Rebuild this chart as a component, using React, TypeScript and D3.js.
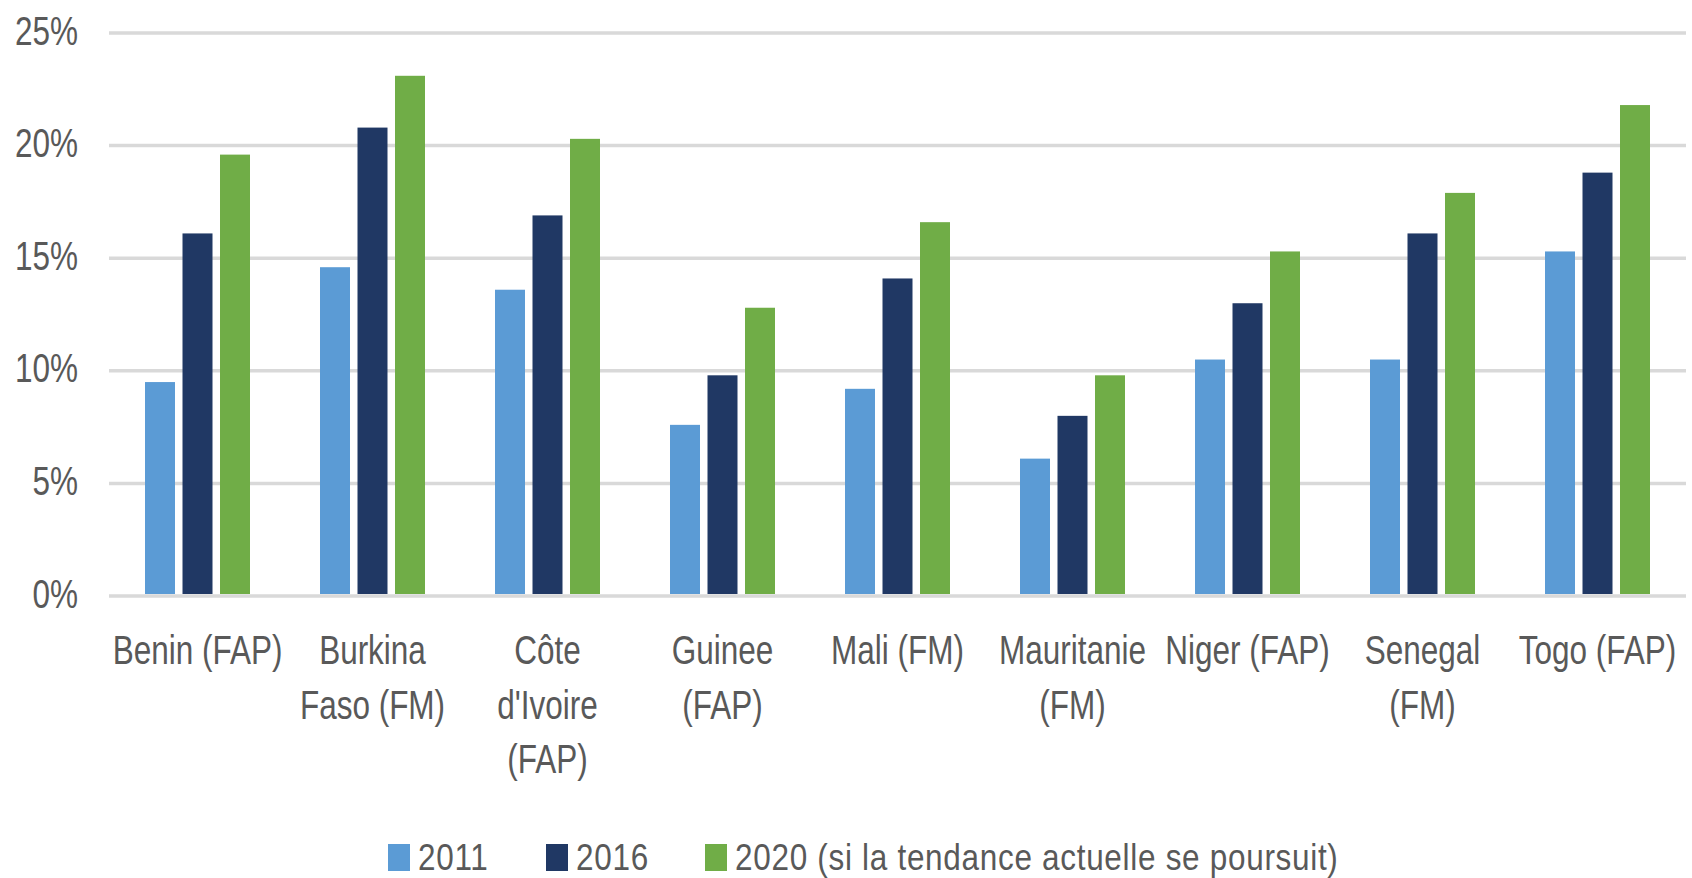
import React from 'react';
import * as d3 from 'd3';

// category labels, already split the way Excel wrapped them
const categories = [
  ['Benin (FAP)'],
  ['Burkina', 'Faso (FM)'],
  ['Côte', "d'Ivoire", '(FAP)'],
  ['Guinee', '(FAP)'],
  ['Mali (FM)'],
  ['Mauritanie', '(FM)'],
  ['Niger (FAP)'],
  ['Senegal', '(FM)'],
  ['Togo (FAP)'],
];

const series = ['2011', '2016', '2020 (si la tendance actuelle se poursuit)'];
const colors = ['#5b9bd5', '#203864', '#70ad47'];

const values2011 = [9.5, 14.6, 13.6, 7.6, 9.2, 6.1, 10.5, 10.5, 15.3];
const values2016 = [16.1, 20.8, 16.9, 9.8, 14.1, 8.0, 13.0, 16.1, 18.8];
const values2020 = [19.6, 23.1, 20.3, 12.8, 16.6, 9.8, 15.3, 17.9, 21.8];

const yTicks = [0, 5, 10, 15, 20, 25];

const W = 1692;
const H = 878;
const FONT = '"Liberation Sans", Arial, sans-serif';
const TEXT = '#595959';
const SY = 1.28; // the source picture is stretched vertically

export default function App() {
  const allValues = [values2011, values2016, values2020];
  const keys = categories.map((_, i) => String(i));

  const x0 = d3.scaleBand().domain(keys).range([110, 1685]).padding(0);
  const x1 = d3.scaleBand().domain(series).range([0, 105]).paddingInner(0.2);
  const groupOffset = (x0.bandwidth() - 105) / 2;
  const y = d3.scaleLinear().domain([0, 25]).range([596, 33]);

  const gridLeft = 109;
  const gridRight = 1686;

  // legend layout
  const legendX = [388, 546, 705];
  const legendY = 844;

  return (
    <svg
      width={W}
      height={H}
      style={{ position: 'absolute', left: 0, top: 0, display: 'block', background: '#fff' }}
    >
      <rect width={W} height={H} fill="#fff" />

      {/* gridlines */}
      <g>
        {yTicks.filter(t => t > 0).map(t => (
          <line key={t} x1={gridLeft} x2={gridRight} y1={y(t)} y2={y(t)} stroke="#d9d9d9" strokeWidth={3.5} />
        ))}
      </g>

      {/* y tick labels */}
      <g fontFamily={FONT} fontSize={31.5} fill={TEXT} textAnchor="end">
        {yTicks.map(t => (
          <text key={t} transform={`translate(78,${y(t) + 11.5}) scale(1,${SY})`}>
            {d3.format('d')(t) + '%'}
          </text>
        ))}
      </g>

      {/* bars */}
      <g>
        {keys.map((k, i) => (
          <g key={k} transform={`translate(${(x0(k) ?? 0) + groupOffset},0)`}>
            {series.map((s, j) => (
              <rect
                key={s}
                x={x1(s)}
                y={y(allValues[j][i])}
                width={x1.bandwidth()}
                height={y(0) - 2 - y(allValues[j][i])}
                fill={colors[j]}
              />
            ))}
          </g>
        ))}
      </g>

      {/* baseline */}
      <line x1={gridLeft} x2={gridRight} y1={y(0)} y2={y(0)} stroke="#d9d9d9" strokeWidth={3.5} />

      {/* category labels */}
      <g fontFamily={FONT} fontSize={31.5} fill={TEXT} textAnchor="middle">
        {categories.map((lines, i) => (
          <g key={i}>
            {lines.map((line, l) => (
              <text
                key={l}
                transform={`translate(${(x0(keys[i]) ?? 0) + x0.bandwidth() / 2},${y(0) + 68 + l * 54.5}) scale(1,${SY})`}
              >
                {line}
              </text>
            ))}
          </g>
        ))}
      </g>

      {/* legend */}
      <g fontFamily={FONT} fontSize={31.5} fill={TEXT} letterSpacing={0.7}>
        {series.map((s, j) => (
          <g key={s}>
            <rect x={legendX[j]} y={legendY} width={22} height={27} fill={colors[j]} />
            <text transform={`translate(${legendX[j] + 30},${legendY + 26}) scale(1,1.2)`}>{s}</text>
          </g>
        ))}
      </g>
    </svg>
  );
}
